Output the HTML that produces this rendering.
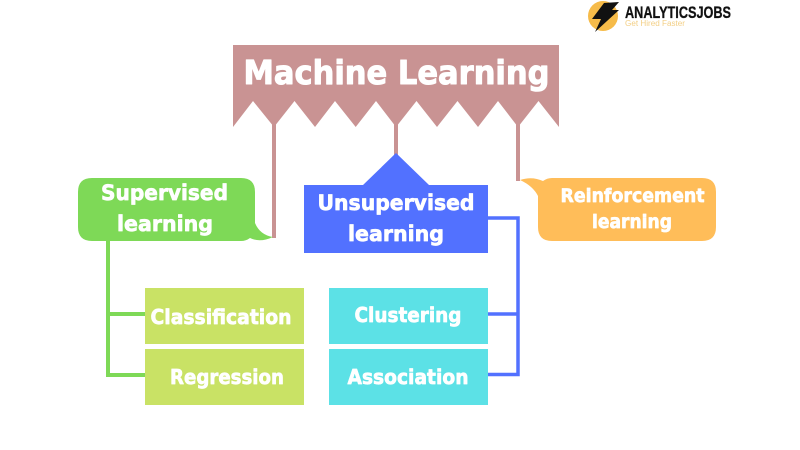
<!DOCTYPE html>
<html>
<head>
<meta charset="utf-8">
<style>
html,body{margin:0;padding:0;background:#fff;width:800px;height:450px;overflow:hidden}
svg{display:block}
text{font-family:"DejaVu Sans","Liberation Sans",sans-serif;font-weight:bold;fill:#fff;text-anchor:middle;stroke:#fff;stroke-width:.7px;stroke-linejoin:round}
text.logo{stroke:none}
</style>
</head>
<body>
<svg width="800" height="450" viewBox="0 0 800 450" xmlns="http://www.w3.org/2000/svg">
<rect width="800" height="450" fill="#fff"/>

<!-- Logo -->
<circle cx="603" cy="16" r="15" fill="#f6bb49"/>
<path d="M604 3 L619 2 L612 10 L619 10 L595 32 L601 19 L592 19 Z" fill="#111"/>
<text class="logo" x="678" y="18" font-size="16.500" textLength="106" lengthAdjust="spacingAndGlyphs" style="fill:#111;font-family:'Liberation Sans',sans-serif;stroke:#111;stroke-width:.3px">ANALYTICSJOBS</text>
<text class="logo" x="655" y="26" font-size="8" textLength="60" lengthAdjust="spacingAndGlyphs" style="fill:#f3cf85;font-family:'Liberation Sans',sans-serif;font-weight:normal">Get Hired Faster</text>

<!-- Connectors -->
<rect x="272" y="120" width="4" height="118" fill="#c99393"/>
<rect x="394" y="120" width="4" height="36" fill="#c99393"/>
<rect x="516" y="120" width="4" height="61" fill="#c99393"/>

<path d="M108 241 V375 H145 M108 314 H145" fill="none" stroke="#7ed957" stroke-width="4"/>
<path d="M488 218 H518 V374.500 H488 M518 314 H488" fill="none" stroke="#5271ff" stroke-width="3.500"/>

<!-- Banner -->
<path d="M233 45 H559 V127 L538.500 101 L518 127 L498 101 L478 127 L457.500 101 L437 127 L416.500 101 L396 127 L376 101 L355.700 127 L335 101 L315 127 L294.500 101 L274 127 L253 101 L233 127 Z" fill="#c99393"/>
<text x="396.500" y="84" font-size="33" textLength="306" lengthAdjust="spacingAndGlyphs" style="stroke-width:1px">Machine Learning</text>

<!-- Supervised -->
<path d="M92 178 H241 Q255 178 255 192 V223 Q260 235 273 237 Q260 243 250 238 Q246 241 241 241 H92 Q78 241 78 227 V192 Q78 178 92 178 Z" fill="#7ed957"/>
<text x="164.500" y="200" font-size="21.500" textLength="127" lengthAdjust="spacingAndGlyphs">Supervised</text>
<text x="165" y="231" font-size="21.500" textLength="96" lengthAdjust="spacingAndGlyphs">learning</text>

<!-- Unsupervised -->
<path d="M304 185 H363 L396 153 L429 185 H488 V253 H304 Z" fill="#5271ff"/>
<text x="396" y="210" font-size="21.500" textLength="157" lengthAdjust="spacingAndGlyphs">Unsupervised</text>
<text x="396" y="241" font-size="21.500" textLength="96" lengthAdjust="spacingAndGlyphs">learning</text>

<!-- Reinforcement -->
<path d="M520 180 Q532 176 543 181 Q547 178 552 178 H702 Q716 178 716 192 V227 Q716 241 702 241 H552 Q538 241 538 227 V196 Q533 186 520 180 Z" fill="#ffbd59"/>
<text x="632.500" y="202" font-size="18.800" textLength="144" lengthAdjust="spacingAndGlyphs">Reinforcement</text>
<text x="632" y="228" font-size="18.800" textLength="80" lengthAdjust="spacingAndGlyphs">learning</text>

<!-- Leaf boxes -->
<rect x="145" y="288" width="159" height="56" fill="#c9e265"/>
<rect x="145" y="349" width="159" height="56" fill="#c9e265"/>
<rect x="329" y="288" width="159" height="56" fill="#5ce1e6"/>
<rect x="329" y="349" width="159" height="56" fill="#5ce1e6"/>

<text x="221" y="324" font-size="20.500" textLength="141" lengthAdjust="spacingAndGlyphs">Classification</text>
<text x="227" y="384" font-size="20.500" textLength="114" lengthAdjust="spacingAndGlyphs">Regression</text>
<text x="408" y="322" font-size="20.500" textLength="107" lengthAdjust="spacingAndGlyphs">Clustering</text>
<text x="408" y="384" font-size="20.500" textLength="121" lengthAdjust="spacingAndGlyphs">Association</text>
</svg>
</body>
</html>
